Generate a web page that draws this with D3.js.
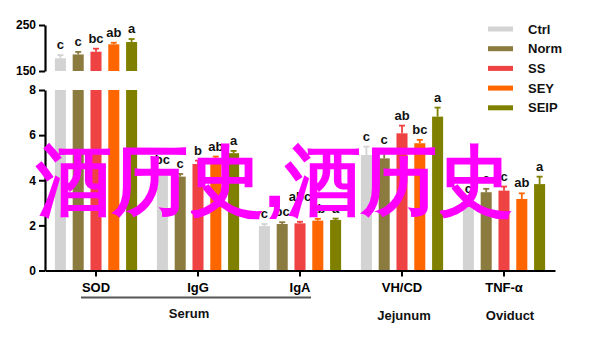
<!DOCTYPE html>
<html>
<head>
<meta charset="utf-8">
<script src="https://cdn.jsdelivr.net/npm/d3@7"></script>
<style>
  html, body { margin: 0; padding: 0; background: #fff; }
  svg { display: block; }
  text { font-family: "Liberation Sans", Arial, Helvetica, sans-serif; }
</style>
</head>
<body>
<svg id="chart" width="600" height="340"></svg>
<script>
// Groups on the x axis and the treatment series within each group
const groups = ["SOD", "IgG", "IgA", "VH/CD", "TNF-α"];
const series = ["Ctrl", "Norm", "SS", "SEY", "SEIP"];
const seriesColors = ["#d3d3d3", "#8b7b3e", "#ef4242", "#ff6600", "#808000"];

// Means, SEM and significance letters per group (order follows `series`)
const sodMeans   = [177.6, 186, 192, 208, 213];
const sodErrors  = [7, 5.5, 6.5, 3.5, 6.5];
const sodLetters = ["c", "c", "bc", "ab", "a"];

const iggMeans   = [4.3, 4.16, 4.72, 4.9, 5.2];
const iggErrors  = [0.15, 0.12, 0.15, 0.15, 0.1];
const iggLetters = ["bc", "c", "b", "ab", "a"];

const igaMeans   = [1.97, 2.06, 2.09, 2.21, 2.24];
const igaErrors  = [0.09, 0.08, 0.07, 0.08, 0.06];
const igaLetters = ["c", "bc", "abc", "ab", "a"];

const vhcdMeans   = [5.12, 4.97, 6.08, 5.64, 6.82];
const vhcdErrors  = [0.37, 0.35, 0.34, 0.15, 0.4];
const vhcdLetters = ["c", "c", "ab", "bc", "a"];

const tnfMeans   = [3.0, 3.47, 3.54, 3.17, 3.83];
const tnfErrors  = [0.15, 0.15, 0.18, 0.25, 0.33];
const tnfLetters = ["c", "c", "c", "ab", "a"];

// Axis ticks for the two segments of the broken y axis
const lowerTicks = [0, 2, 4, 6, 8];
const upperTicks = [150, 250];

// Tissue captions under the groups
const regionNames = ["Serum", "Jejunum", "Oviduct"];

const overlayText = "酒历史,酒历史";

// ---- build a flat table of bars ----
const groupData = [
  [sodMeans, sodErrors, sodLetters],
  [iggMeans, iggErrors, iggLetters],
  [igaMeans, igaErrors, igaLetters],
  [vhcdMeans, vhcdErrors, vhcdLetters],
  [tnfMeans, tnfErrors, tnfLetters]
];
const bars = [];
groups.forEach((g, gi) => {
  const [m, e, l] = groupData[gi];
  series.forEach((s, si) => {
    bars.push({ group: g, series: s, value: m[si], err: e[si], letter: l[si], color: seriesColors[si] });
  });
});

const svg = d3.select("#chart");

// ---- scales ----
const axisX = 45;
const x0 = d3.scaleBand().domain(groups).range([axisX, 555]).padding(0);
const x1 = d3.scaleBand().domain(series).range([-44.5, 44.5]).paddingInner(0.38).paddingOuter(0.19);
const yLow = d3.scaleLinear().domain([0, 8]).range([270.5, 90]);
const yHigh = d3.scaleLinear().domain([150, 250]).range([71, 25]);

const barX = d => x0(d.group) + x0.bandwidth() / 2 + x1(d.series);

// clip for the lower segment
const defs = svg.append("defs");
defs.append("clipPath").attr("id", "clipLow")
  .append("rect").attr("x", axisX).attr("y", yLow(8)).attr("width", 520).attr("height", yLow(0) - yLow(8));

// ---- lower segment bars ----
const low = svg.append("g").attr("clip-path", "url(#clipLow)");
low.selectAll("rect").data(bars).join("rect")
  .attr("x", barX)
  .attr("width", x1.bandwidth())
  .attr("y", d => yLow(Math.min(d.value, 9)))
  .attr("height", d => yLow(0) - yLow(Math.min(d.value, 9)))
  .attr("fill", d => d.color);

const lowBars = bars.filter(d => d.value <= 8);
const upBars = bars.filter(d => d.value > 150);

const letterNodes = [];

function drawErrors(sel, data, y) {
  const g = sel.append("g");
  const capW = 6;
  data.forEach(d => {
    const cx = barX(d) + x1.bandwidth() / 2;
    const top = y(d.value + d.err);
    g.append("line").attr("x1", cx).attr("x2", cx)
      .attr("y1", y(d.value)).attr("y2", top)
      .attr("stroke", d.color).attr("stroke-width", 1.8);
    g.append("line").attr("x1", cx - capW / 2).attr("x2", cx + capW / 2)
      .attr("y1", top).attr("y2", top)
      .attr("stroke", d.color).attr("stroke-width", 1.8);
    const t = g.append("text").attr("x", cx).attr("y", top - 6)
      .attr("text-anchor", "middle")
      .attr("font-size", 13).attr("font-weight", "bold").attr("fill", "#111")
      .text(d.letter);
    letterNodes.push({ group: d.group, cx, y: top - 6, w: t.node().getComputedTextLength(), node: t });
  });
}
drawErrors(svg, lowBars, yLow);

// ---- upper segment bars ----
svg.append("g").selectAll("rect").data(upBars).join("rect")
  .attr("x", barX)
  .attr("width", x1.bandwidth())
  .attr("y", d => yHigh(d.value))
  .attr("height", d => yHigh(150) - yHigh(d.value))
  .attr("fill", d => d.color);
drawErrors(svg, upBars, yHigh);

// lift significance letters that would collide with a neighbour in the same group
groups.forEach(g => {
  const items = letterNodes.filter(l => l.group === g);
  items.forEach((a, i) => {
    const neighbours = items.filter((b, j) => j !== i);
    const hits = neighbours.filter(b =>
      Math.abs(a.cx - b.cx) < (a.w + b.w) / 2 - 0.5 && Math.abs(a.y - b.y) < 11);
    // the wider label of a clashing pair moves up one line
    if (hits.length && hits.every(b => a.w >= b.w)) {
      a.y = Math.min(...hits.map(b => b.y)) - 12;
      a.node.attr("y", a.y);
    }
  });
});

// ---- axes ----
function styleAxis(g) {
  g.selectAll("path.domain").attr("stroke", "#000").attr("stroke-width", 2.2);
  g.selectAll(".tick line").attr("stroke", "#000").attr("stroke-width", 2);
  g.selectAll(".tick text").attr("fill", "#000").attr("font-weight", "bold")
    .attr("font-family", "'Liberation Sans', Arial, sans-serif");
}

svg.append("g").attr("transform", `translate(${axisX},0)`)
  .call(d3.axisLeft(yLow).tickValues(lowerTicks).tickSize(6).tickSizeOuter(0).tickPadding(3))
  .call(g => g.selectAll(".tick text").attr("font-size", 12))
  .call(styleAxis);

svg.append("g").attr("transform", `translate(${axisX},0)`)
  .call(d3.axisLeft(yHigh).tickValues(upperTicks).tickSize(6).tickSizeOuter(0).tickPadding(3))
  .call(g => g.selectAll(".tick text").attr("font-size", 12))
  .call(styleAxis);

svg.append("g").attr("transform", `translate(0,${yLow(0)})`)
  .call(d3.axisBottom(x0).tickSize(6).tickSizeOuter(0).tickPadding(6))
  .call(g => g.selectAll(".tick text").attr("font-size", 13))
  .call(styleAxis);

// ---- tissue captions ----
const serumLeft = x0("SOD") + x0.bandwidth() / 2 - 15;
const serumRight = x0("IgA") + x0.bandwidth() / 2 + 11;
svg.append("line").attr("x1", serumLeft).attr("x2", serumRight)
  .attr("y1", 297.5).attr("y2", 297.5).attr("stroke", "#555").attr("stroke-width", 2);

const captionPos = [
  { x: (serumLeft + serumRight) / 2 - 7, y: 318 },
  { x: x0("VH/CD") + x0.bandwidth() / 2 + 2, y: 320 },
  { x: x0("TNF-α") + x0.bandwidth() / 2 + 6, y: 320 }
];
svg.append("g").selectAll("text").data(regionNames).join("text")
  .attr("x", (d, i) => captionPos[i].x)
  .attr("y", (d, i) => captionPos[i].y)
  .attr("text-anchor", "middle")
  .attr("font-size", 13).attr("font-weight", "bold").attr("fill", "#111")
  .text(d => d);

// ---- legend ----
const legend = svg.append("g").attr("transform", "translate(488,29)");
const leg = legend.selectAll("g").data(series).join("g")
  .attr("transform", (d, i) => `translate(0,${i * 19.7})`);
leg.append("rect").attr("x", 0).attr("y", -2.5).attr("width", 25).attr("height", 5)
  .attr("fill", (d, i) => seriesColors[i]);
leg.append("text").attr("x", 40).attr("y", 0).attr("dy", "0.36em")
  .attr("font-size", 13).attr("font-weight", "bold").attr("fill", "#111")
  .text(d => d);

// ---- overlay caption ----
svg.append("text")
  .attr("x", 274.5).attr("y", 207)
  .attr("text-anchor", "middle")
  .attr("font-family", "'Noto Sans CJK SC', 'Noto Sans CJK JP', sans-serif")
  .attr("font-size", 76).attr("font-weight", "bold")
  .attr("fill", "#ff00ff")
  .text(overlayText);
</script>
</body>
</html>
